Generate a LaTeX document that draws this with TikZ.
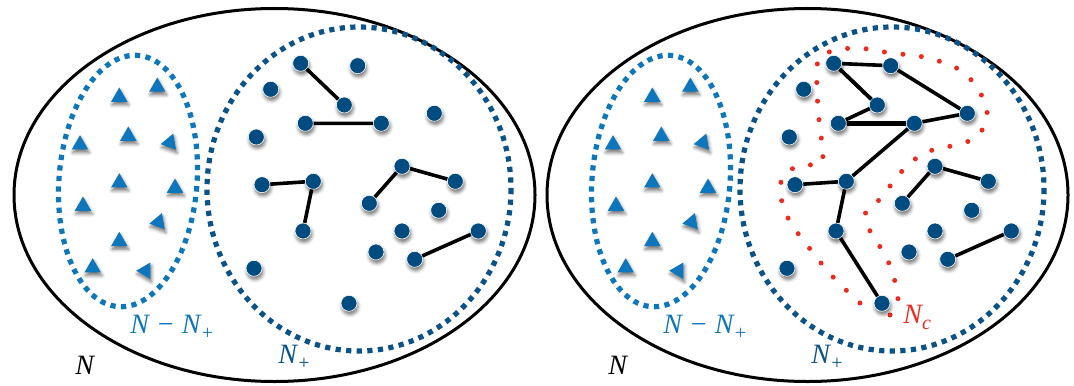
\documentclass[tikz,border=0pt]{standalone}
\usepackage{fontspec}
\newfontfamily\labfont{Liberation Serif}
\usetikzlibrary{shapes.geometric,shadows.blur}

\definecolor{triblue}{HTML}{0E76BC}
\definecolor{dotblue}{HTML}{004C80}
\definecolor{setblue}{HTML}{0A5288}
\definecolor{ncred}{HTML}{EE2A1F}

\newcommand{\lowsub}[1]{\raisebox{-3pt}{\fontsize{10}{12}\selectfont #1}}

\begin{document}
\begin{tikzpicture}[x=0.5pt, y=-0.5pt,
  softshadow/.style={blur shadow={shadow xshift=0.5pt, shadow yshift=-1.6pt, shadow blur radius=1.7pt, shadow opacity=55}},
  dot/.style={circle, fill=dotblue, draw=white, line width=0.3pt, minimum size=8pt, inner sep=0pt, softshadow},
  tri/.style={regular polygon, regular polygon sides=3, fill=triblue, minimum size=9.5pt, inner sep=0pt, softshadow},
  link/.style={line width=1.8pt},
  outerset/.style={line width=1.5pt},
  minusset/.style={draw=triblue, line width=2.6pt, dash pattern=on 2.6pt off 2.7pt},
  plusset/.style={draw=setblue, line width=2.6pt, dash pattern=on 2.6pt off 2.7pt},
  coreset/.style={draw=ncred, line width=2.5pt, line cap=round, dash pattern=on 0pt off 9.3pt},
  lab/.style={font=\labfont\fontsize{14}{16}\selectfont\itshape, anchor=base west, inner sep=0pt}]
  \useasboundingbox (0,0) rectangle (1074,385);

  % N_c, right panel only
  \draw[coreset] plot[smooth, tension=0.6] coordinates {(890,315) (898,298) (888,261) (869,229) (866,211) (880,199) (903,170) (927,152) (964,143) (980,133) (987,116) (983,98) (963,72) (928,58) (891,53) (854,48) (822,55) (817,72) (818,109) (822,146) (821,164) (803,165) (786,173) (780,190) (788,218) (810,249) (834,278) (861,304)};

  \foreach \p/\dx in {L/0, R/533} {
    \begin{scope}[shift={(\dx,0)}]
      \draw[outerset] (274.5,195) ellipse [x radius=260.5, y radius=186.5];
      \draw[minusset, rotate around={-4.5:(128,181)}] (128,181) ellipse [x radius=69, y radius=126];
      \draw[plusset] (359,189) ellipse [x radius=152, y radius=162];

      \foreach \i/\x/\y/\r in {1/157.3/87/0, 2/119.3/97/0, 3/80/144.7/0, 4/128.3/136/0,
          5/170/142.5/-20, 6/119.3/182.7/0, 7/175/188/0, 8/83/206/0, 9/158.7/222/-20,
          10/119.3/241.3/0, 11/92.7/267.7/0, 12/145.7/270.7/-30}
        \node[tri, rotate=\r] (\p t\i) at (\x,\y) {};

      \foreach \i/\x/\y in {1/300.7/63.3, 2/357.7/65.7, 3/270.7/89.3, 4/344.3/105,
          5/305.3/123.3, 6/381.3/123.3, 7/434.3/113.3, 8/256.3/137, 9/262/184.7,
          10/313.3/181.3, 11/402/166.3, 12/455.3/181.3, 13/369.3/203.3, 14/438.7/210.3,
          15/303/231, 16/402/231, 17/478.3/231, 18/376/252, 19/414.7/259.3,
          20/254/268.3, 21/349/303.3}
        \node[dot] (\p\i) at (\x,\y) {};

      \draw[link] (\p1) -- (\p4) (\p5) -- (\p6) (\p9) -- (\p10) -- (\p15)
        (\p13) -- (\p11) -- (\p12) (\p19) -- (\p17);

      \node[lab, text=triblue] (\p minus) at (130,333) {N − N\lowsub{+}};
      \node[lab, text=setblue] (\p plus) at (278,363) {N\lowsub{+}};
      \node[lab] (\p all) at (75,374) {N};
    \end{scope}
  }

  % tree of N_c
  \draw[link] (R1) -- (R2) -- (R7) -- (R6) -- (R10) (R1) -- (R4) -- (R5) (R15) -- (R21);
  \draw[line width=2.5pt] (R5) -- (R6);
  \node[lab, text=ncred] (core) at (903,323) {N\lowsub{c}};
\end{tikzpicture}
\end{document}
